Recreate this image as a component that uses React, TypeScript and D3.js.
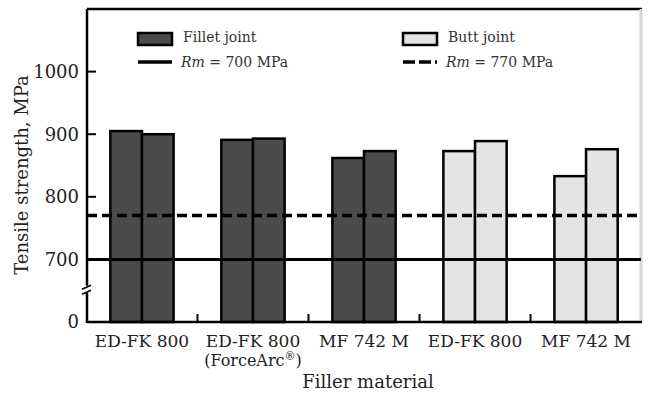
import React, { useEffect, useRef } from "react";
import * as d3 from "d3";

const categories = ["ED-FK 800", "ED-FK 800 (ForceArc®)", "MF 742 M", "ED-FK 800 b", "MF 742 M b"];
const joints = ["Fillet joint", "Fillet joint", "Fillet joint", "Butt joint", "Butt joint"];
const sampleA = [905, 891, 862, 873, 833];
const sampleB = [900, 893, 873, 889, 876];
const yTicks = [600, 700, 800, 900, 1000];
const yTickLabels = ["0", "700", "800", "900", "1000"];
const refLines = [
  { value: 700, label: "700", dashed: false },
  { value: 770, label: "770", dashed: true },
];

const FONT = "'DejaVu Serif', 'Liberation Serif', serif";

const App = () => {
  const svgRef = useRef(null);

  useEffect(() => {
    const svg = d3.select(svgRef.current);
    svg.selectAll("*").remove();

    const left = 87, right = 641, top = 9, bottom = 322;

    const x = d3.scaleBand().domain(categories).range([left, right])
      .paddingInner(0.43).paddingOuter(0.21);
    const sub = d3.scaleBand().domain(["a", "b"]).range([0, x.bandwidth()]);
    const y = d3.scaleLinear().domain([600, 1100]).range([bottom, top]);

    const fillFor = (j) => (j === "Fillet joint" ? "#4b4b4b" : "#e4e4e4");

    // frame: top + right
    svg.append("line").attr("x1", left).attr("x2", right + 1).attr("y1", top).attr("y2", top)
      .attr("stroke", "#000").attr("stroke-width", 2.5);
    svg.append("line").attr("x1", right).attr("x2", right).attr("y1", top).attr("y2", bottom)
      .attr("stroke", "#d6d6d6").attr("stroke-width", 3);

    // bars
    categories.forEach((c, i) => {
      const g = svg.append("g").attr("transform", `translate(${x(c)},0)`);
      [["a", sampleA[i]], ["b", sampleB[i]]].forEach(([k, v]) => {
        g.append("rect")
          .attr("x", sub(k))
          .attr("y", y(v))
          .attr("width", sub.bandwidth())
          .attr("height", bottom - y(v))
          .attr("fill", fillFor(joints[i]))
          .attr("stroke", "#000")
          .attr("stroke-width", 2.5);
      });
    });

    // reference lines
    refLines.forEach((r) => {
      svg.append("line")
        .attr("x1", left).attr("x2", right)
        .attr("y1", y(r.value)).attr("y2", y(r.value))
        .attr("stroke", "#000")
        .attr("stroke-width", r.dashed ? 3.5 : 3)
        .attr("stroke-dasharray", r.dashed ? "10,5" : null);
    });

    // axes
    svg.append("line").attr("x1", left).attr("x2", left).attr("y1", top).attr("y2", bottom + 1)
      .attr("stroke", "#000").attr("stroke-width", 2.5);
    svg.append("line").attr("x1", left).attr("x2", right + 1).attr("y1", bottom).attr("y2", bottom)
      .attr("stroke", "#000").attr("stroke-width", 2.5);

    yTicks.forEach((t, i) => {
      svg.append("line").attr("x1", left).attr("x2", left + 9).attr("y1", y(t)).attr("y2", y(t))
        .attr("stroke", "#000").attr("stroke-width", 2);
      svg.append("text")
        .attr("x", left - 8).attr("y", y(t))
        .attr("dy", "0.36em")
        .attr("text-anchor", "end")
        .attr("font-family", FONT).attr("font-size", 18).attr("fill", "#222")
        .text(yTickLabels[i]);
    });

    // axis break
    const by = y(650) - 1;
    svg.append("rect").attr("x", left - 3).attr("y", by - 4).attr("width", 6).attr("height", 7).attr("fill", "#fff");
    [-2.5, 2.5].forEach((o) => {
      svg.append("line").attr("x1", left - 5).attr("x2", left + 4)
        .attr("y1", by + o + 2).attr("y2", by + o - 2)
        .attr("stroke", "#000").attr("stroke-width", 1.5);
    });

    // bottom ticks between groups
    const step = x.step();
    categories.slice(0, -1).forEach((c) => {
      const tx = x(c) + x.bandwidth() + (step - x.bandwidth()) / 2;
      svg.append("line").attr("x1", tx).attr("x2", tx).attr("y1", bottom).attr("y2", bottom - 8)
        .attr("stroke", "#000").attr("stroke-width", 2);
    });

    // category labels
    categories.forEach((c) => {
      const cx = x(c) + x.bandwidth() / 2;
      const base = c.replace(/ b$/, "").replace(" (ForceArc®)", "");
      svg.append("text")
        .attr("x", cx).attr("y", 347)
        .attr("text-anchor", "middle")
        .attr("font-family", FONT).attr("font-size", 17).attr("fill", "#222")
        .text(base);
      if (c.includes("ForceArc")) {
        const t = svg.append("text")
          .attr("x", cx).attr("y", 366)
          .attr("text-anchor", "middle")
          .attr("font-family", FONT).attr("font-size", 16).attr("fill", "#222");
        t.append("tspan").text("(ForceArc");
        t.append("tspan").attr("font-size", 11).attr("dy", -6).text("®");
        t.append("tspan").attr("dy", 6).text(")");
      }
    });

    // axis titles
    svg.append("text")
      .attr("x", 368).attr("y", 388)
      .attr("text-anchor", "middle")
      .attr("font-family", FONT).attr("font-size", 18).attr("fill", "#222")
      .text("Filler material");
    svg.append("text")
      .attr("transform", "translate(28,175) rotate(-90)")
      .attr("text-anchor", "middle")
      .attr("font-family", FONT).attr("font-size", 18).attr("fill", "#222")
      .text("Tensile strength, MPa");

    // legend
    const legend = [
      { x: 138, kind: "rect", fill: fillFor("Fillet joint"), label: "Fillet joint", row: 0 },
      { x: 138, kind: "line", dashed: false, value: refLines[0].label, row: 1 },
      { x: 403, kind: "rect", fill: fillFor("Butt joint"), label: "Butt joint", row: 0 },
      { x: 403, kind: "line", dashed: true, value: refLines[1].label, row: 1 },
    ];
    legend.forEach((d) => {
      const ly = d.row === 0 ? 39 : 62;
      if (d.kind === "rect") {
        svg.append("rect").attr("x", d.x).attr("y", ly - 6).attr("width", 34).attr("height", 12)
          .attr("fill", d.fill).attr("stroke", "#000").attr("stroke-width", 2.5);
        svg.append("text").attr("x", d.x + 45).attr("y", ly + 3)
          .attr("font-family", FONT).attr("font-size", 14).attr("fill", "#333")
          .text(d.label);
      } else {
        svg.append("line").attr("x1", d.x).attr("x2", d.x + 34).attr("y1", ly).attr("y2", ly)
          .attr("stroke", "#000").attr("stroke-width", 3.5)
          .attr("stroke-dasharray", d.dashed ? "12,4" : null);
        const t = svg.append("text").attr("x", d.x + 43).attr("y", ly + 5)
          .attr("font-family", FONT).attr("font-size", 14).attr("fill", "#333");
        t.append("tspan").attr("font-style", "italic").text("Rm");
        t.append("tspan").text(` = ${d.value} MPa`);
      }
    });
  }, []);

  return (
    <svg ref={svgRef} width={653} height={396}
      style={{ position: "absolute", left: 0, top: 0, background: "#fff" }} />
  );
};

export default App;
